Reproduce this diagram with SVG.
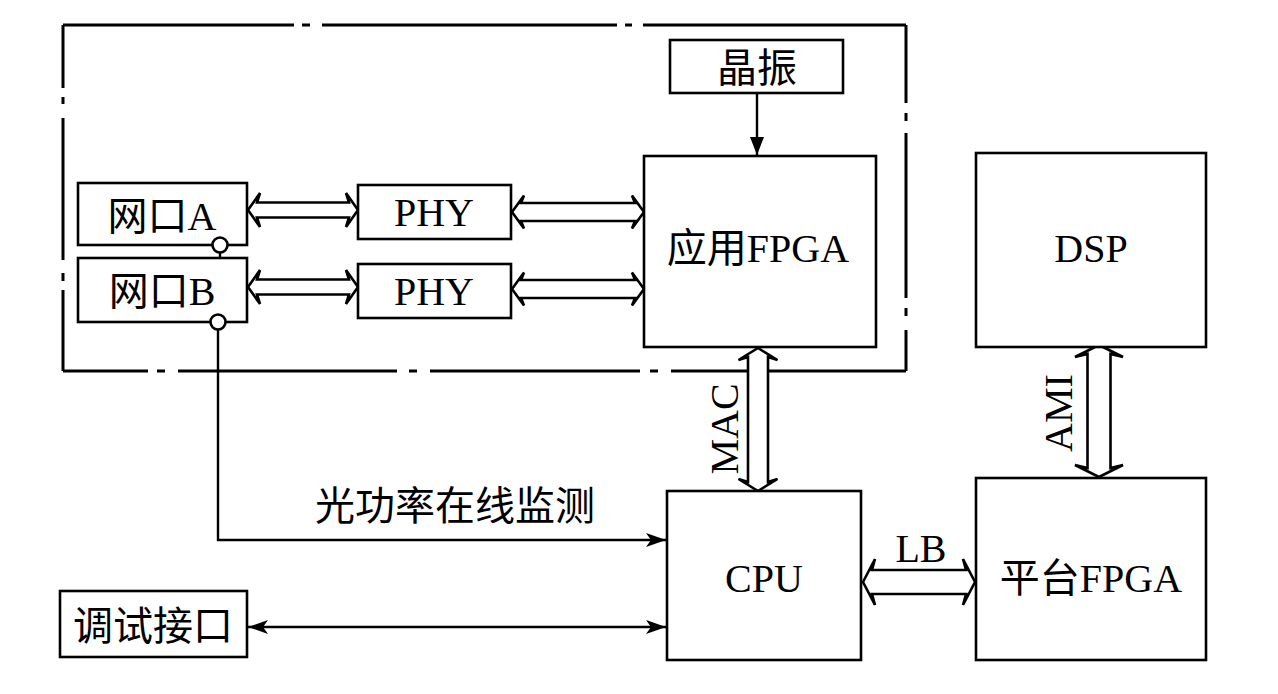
<svg xmlns="http://www.w3.org/2000/svg" width="1278" height="694" viewBox="0 0 1278 694">
<style>
.box{fill:#fff;stroke:#000;stroke-width:2.6}
.frame{fill:none;stroke:#000;stroke-width:3}
.t{font-family:"Liberation Serif","Noto Sans CJK SC",serif;font-size:40px;fill:#000;text-anchor:middle}
.ln{fill:none;stroke:#000;stroke-width:2.4}
.dbl{fill:#fff;stroke:#000;stroke-width:2.6;stroke-linejoin:miter}
</style>
<defs>
<marker id="ah" viewBox="0 0 20 14" refX="20" refY="7" markerWidth="20" markerHeight="14" markerUnits="userSpaceOnUse" orient="auto-start-reverse">
<path d="M0,0 L20,7 L0,14 L5,7 Z" fill="#000"/>
</marker>
<marker id="tri" viewBox="0 0 18 14" refX="18" refY="7" markerWidth="18" markerHeight="14" markerUnits="userSpaceOnUse" orient="auto">
<path d="M0,0 L18,7 L0,14 Z" fill="#000"/>
</marker>
</defs>
<rect width="1278" height="694" fill="#fff"/>
<g id="frame" class="frame">
<path d="M63,25 H294 M302,25 H310 M322,25 H617 M625,25 H632 M643,25 H906"/>
<path d="M906,25 V103 M906,113 V121 M906,133 V298 M906,308 V316 M906,330 V371"/>
<path d="M63,371 H148 M157,371 H165 M178,371 H397 M409,371 H417 M430,371 H640 M650,371 H658 M671,371 H906"/>
<path d="M63,25 V88 M63,97 V104 M63,118 V260 M63,273 V281 M63,290 V371"/>
</g>
<g id="connectors">
<line class="ln" x1="757" y1="93" x2="757" y2="155" marker-end="url(#tri)"/>
<line class="ln" x1="220" y1="252" x2="220" y2="258"/>
<polyline class="ln" points="218,329 218,540 666,540" marker-end="url(#ah)"/>
<line class="ln" x1="248" y1="627" x2="666" y2="627" marker-start="url(#ah)" marker-end="url(#ah)"/>
<path class="dbl" d="M248,210 L260,193 L257,202.5 H349 L346,193 L358,210 L346,227 L349,217.5 H257 L260,227 Z"/>
<path class="dbl" d="M248,287 L260,270 L257,279.5 H349 L346,270 L358,287 L346,304 L349,294.5 H257 L260,304 Z"/>
<path class="dbl" d="M512,212 L524,195.5 L521,203 H635 L632,195.5 L644,212 L632,228.5 L635,221 H521 L524,228.5 Z"/>
<path class="dbl" d="M512,289 L524,272.5 L521,280 H635 L632,272.5 L644,289 L632,305.5 L635,298 H521 L524,305.5 Z"/>
<path class="dbl" d="M758,348 L777.5,360 L768,357 V482 L777.5,479 L758,491 L738.5,479 L748,482 V357 L738.5,360 Z"/>
<path class="dbl" d="M1099,345 L1123,357 L1110.5,354 V468 L1123,465 L1099,477 L1075,465 L1087.5,468 V354 L1075,357 Z"/>
<path class="dbl" d="M863,582 L875,559 L872,570 H966 L963,559 L975,582 L963,605 L966,594 H872 L875,605 Z"/>
<text class="t" transform="translate(738,429) rotate(-90)">MAC</text>
<text class="t" transform="translate(1072,413) rotate(-90)">AMI</text>
<text class="t" x="921" y="562">LB</text>
<text class="t" x="455" y="520">光功率在线监测</text>
</g>
<g id="jingzhen"><rect class="box" x="670" y="40" width="173" height="53"/><text class="t" x="757" y="82">晶振</text></g>
<g id="fpga-app"><rect class="box" x="644" y="156" width="232" height="191"/><text class="t" x="758" y="262">应用FPGA</text></g>
<g id="port-a"><rect class="box" x="78" y="183" width="169" height="62"/><text class="t" x="162" y="230">网口A</text><circle class="box" cx="220" cy="245" r="7.5"/></g>
<g id="port-b"><rect class="box" x="78" y="258" width="169" height="64"/><text class="t" x="162" y="305">网口B</text><circle class="box" cx="218" cy="322" r="7.5"/></g>
<g id="phy1"><rect class="box" x="358" y="185" width="153" height="54"/><text class="t" x="434" y="226">PHY</text></g>
<g id="phy2"><rect class="box" x="358" y="264" width="153" height="54"/><text class="t" x="434" y="305">PHY</text></g>
<g id="dsp"><rect class="box" x="976" y="153" width="230" height="194"/><text class="t" x="1091" y="262">DSP</text></g>
<g id="fpga-platform"><rect class="box" x="976" y="478" width="230" height="182"/><text class="t" x="1091" y="592">平台FPGA</text></g>
<g id="cpu"><rect class="box" x="667" y="491" width="194" height="169"/><text class="t" x="764" y="592">CPU</text></g>
<g id="debug"><rect class="box" x="60" y="591" width="187" height="66"/><text class="t" x="153" y="640">调试接口</text></g>
</svg>
